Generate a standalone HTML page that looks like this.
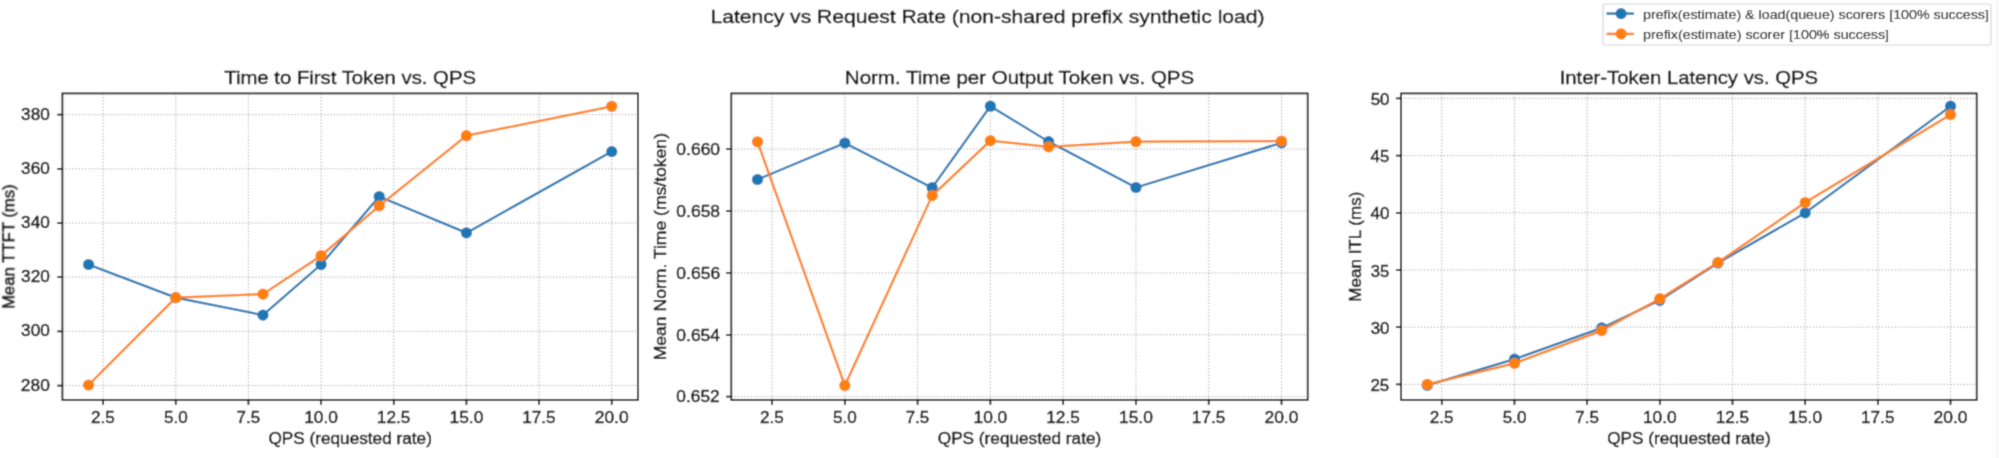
<!DOCTYPE html>
<html><head><meta charset="utf-8"><style>
html,body{margin:0;padding:0;background:#fff;}
body{width:1999px;height:458px;overflow:hidden;}
svg{display:block;}
text{font-family:"Liberation Sans",sans-serif;stroke:#000;stroke-width:0.4px;}
</style></head><body>
<svg width="1999" height="458" viewBox="0 0 1999 458">
<defs><filter id="bl" x="0" y="0" width="1999" height="458" filterUnits="userSpaceOnUse"><feConvolveMatrix order="5" kernelMatrix="0.000013 0.000619 0.002273 0.000619 0.000013 0.000619 0.030646 0.112530 0.030646 0.000619 0.002273 0.112530 0.413206 0.112530 0.002273 0.000619 0.030646 0.112530 0.030646 0.000619 0.000013 0.000619 0.002273 0.000619 0.000013" edgeMode="duplicate"/></filter></defs>
<g filter="url(#bl)">
<rect width="1999" height="458" fill="#fff"/>
<path d="M103.09 93.40V399.90 M175.76 93.40V399.90 M248.42 93.40V399.90 M321.08 93.40V399.90 M393.75 93.40V399.90 M466.41 93.40V399.90 M539.08 93.40V399.90 M611.74 93.40V399.90 M62.40 114.60H637.90 M62.40 168.80H637.90 M62.40 223.00H637.90 M62.40 277.10H637.90 M62.40 331.30H637.90 M62.40 385.50H637.90" stroke="#a0a0a0" stroke-width="1.0" stroke-dasharray="1.25 2.02" fill="none"/>
<polyline points="88.56,264.50 175.76,297.60 262.95,315.10 321.08,264.50 379.22,196.50 466.41,232.90 611.74,151.60" fill="none" stroke="#1f77b4" stroke-width="2.25" stroke-linejoin="round" stroke-linecap="square"/>
<circle cx="88.56" cy="264.50" r="5.6" fill="#1f77b4"/>
<circle cx="175.76" cy="297.60" r="5.6" fill="#1f77b4"/>
<circle cx="262.95" cy="315.10" r="5.6" fill="#1f77b4"/>
<circle cx="321.08" cy="264.50" r="5.6" fill="#1f77b4"/>
<circle cx="379.22" cy="196.50" r="5.6" fill="#1f77b4"/>
<circle cx="466.41" cy="232.90" r="5.6" fill="#1f77b4"/>
<circle cx="611.74" cy="151.60" r="5.6" fill="#1f77b4"/>
<polyline points="88.56,385.00 175.76,297.60 262.95,294.10 321.08,255.70 379.22,205.80 466.41,135.70 611.74,106.30" fill="none" stroke="#ff7f0e" stroke-width="2.25" stroke-linejoin="round" stroke-linecap="square"/>
<circle cx="88.56" cy="385.00" r="5.6" fill="#ff7f0e"/>
<circle cx="175.76" cy="297.60" r="5.6" fill="#ff7f0e"/>
<circle cx="262.95" cy="294.10" r="5.6" fill="#ff7f0e"/>
<circle cx="321.08" cy="255.70" r="5.6" fill="#ff7f0e"/>
<circle cx="379.22" cy="205.80" r="5.6" fill="#ff7f0e"/>
<circle cx="466.41" cy="135.70" r="5.6" fill="#ff7f0e"/>
<circle cx="611.74" cy="106.30" r="5.6" fill="#ff7f0e"/>
<rect x="62.40" y="93.40" width="575.50" height="306.50" fill="none" stroke="#000" stroke-width="1.75"/>
<path d="M103.09 399.90V405.10 M175.76 399.90V405.10 M248.42 399.90V405.10 M321.08 399.90V405.10 M393.75 399.90V405.10 M466.41 399.90V405.10 M539.08 399.90V405.10 M611.74 399.90V405.10 M57.20 114.60H62.40 M57.20 168.80H62.40 M57.20 223.00H62.40 M57.20 277.10H62.40 M57.20 331.30H62.40 M57.20 385.50H62.40" stroke="#000" stroke-width="1.75" fill="none"/>
<text x="102.91" y="422.60" font-size="15.81" text-anchor="middle" textLength="23.74" lengthAdjust="spacingAndGlyphs" fill="#000">2.5</text>
<text x="175.83" y="422.60" font-size="15.81" text-anchor="middle" textLength="23.78" lengthAdjust="spacingAndGlyphs" fill="#000">5.0</text>
<text x="248.30" y="422.60" font-size="15.81" text-anchor="middle" textLength="23.61" lengthAdjust="spacingAndGlyphs" fill="#000">7.5</text>
<text x="321.10" y="422.60" font-size="15.81" text-anchor="middle" textLength="33.78" lengthAdjust="spacingAndGlyphs" fill="#000">10.0</text>
<text x="393.63" y="422.60" font-size="15.81" text-anchor="middle" textLength="33.49" lengthAdjust="spacingAndGlyphs" fill="#000">12.5</text>
<text x="466.43" y="422.60" font-size="15.81" text-anchor="middle" textLength="33.78" lengthAdjust="spacingAndGlyphs" fill="#000">15.0</text>
<text x="538.96" y="422.60" font-size="15.81" text-anchor="middle" textLength="33.49" lengthAdjust="spacingAndGlyphs" fill="#000">17.5</text>
<text x="611.70" y="422.60" font-size="15.81" text-anchor="middle" textLength="33.90" lengthAdjust="spacingAndGlyphs" fill="#000">20.0</text>
<text x="49.84" y="119.60" font-size="15.81" text-anchor="end" textLength="28.70" lengthAdjust="spacingAndGlyphs" fill="#000">380</text>
<text x="49.84" y="173.80" font-size="15.81" text-anchor="end" textLength="28.70" lengthAdjust="spacingAndGlyphs" fill="#000">360</text>
<text x="49.84" y="228.00" font-size="15.81" text-anchor="end" textLength="28.70" lengthAdjust="spacingAndGlyphs" fill="#000">340</text>
<text x="49.84" y="282.10" font-size="15.81" text-anchor="end" textLength="28.70" lengthAdjust="spacingAndGlyphs" fill="#000">320</text>
<text x="49.84" y="336.30" font-size="15.81" text-anchor="end" textLength="28.70" lengthAdjust="spacingAndGlyphs" fill="#000">300</text>
<text x="49.85" y="390.50" font-size="15.81" text-anchor="end" textLength="28.97" lengthAdjust="spacingAndGlyphs" fill="#000">280</text>
<text x="350.15" y="83.60" font-size="18.67" text-anchor="middle" textLength="251.71" lengthAdjust="spacingAndGlyphs" fill="#000">Time to First Token vs. QPS</text>
<text x="350.15" y="444.00" font-size="15.81" text-anchor="middle" textLength="163.45" lengthAdjust="spacingAndGlyphs" fill="#000">QPS (requested rate)</text>
<text x="14.00" y="246.65" font-size="15.81" text-anchor="middle" textLength="124.67" lengthAdjust="spacingAndGlyphs" fill="#000" transform="rotate(-90 14.00 246.65)">Mean TTFT (ms)</text>
<path d="M772.06 93.40V399.90 M844.83 93.40V399.90 M917.61 93.40V399.90 M990.39 93.40V399.90 M1063.17 93.40V399.90 M1135.94 93.40V399.90 M1208.72 93.40V399.90 M1281.50 93.40V399.90 M731.30 149.10H1307.70 M731.30 211.00H1307.70 M731.30 272.90H1307.70 M731.30 334.80H1307.70 M731.30 396.70H1307.70" stroke="#a0a0a0" stroke-width="1.0" stroke-dasharray="1.25 2.02" fill="none"/>
<polyline points="757.50,179.50 844.83,143.00 932.17,187.70 990.39,106.20 1048.61,141.60 1135.94,187.50 1281.50,142.80" fill="none" stroke="#1f77b4" stroke-width="2.25" stroke-linejoin="round" stroke-linecap="square"/>
<circle cx="757.50" cy="179.50" r="5.6" fill="#1f77b4"/>
<circle cx="844.83" cy="143.00" r="5.6" fill="#1f77b4"/>
<circle cx="932.17" cy="187.70" r="5.6" fill="#1f77b4"/>
<circle cx="990.39" cy="106.20" r="5.6" fill="#1f77b4"/>
<circle cx="1048.61" cy="141.60" r="5.6" fill="#1f77b4"/>
<circle cx="1135.94" cy="187.50" r="5.6" fill="#1f77b4"/>
<circle cx="1281.50" cy="142.80" r="5.6" fill="#1f77b4"/>
<polyline points="757.50,141.80 844.83,385.50 932.17,195.60 990.39,140.60 1048.61,146.90 1135.94,141.70 1281.50,141.00" fill="none" stroke="#ff7f0e" stroke-width="2.25" stroke-linejoin="round" stroke-linecap="square"/>
<circle cx="757.50" cy="141.80" r="5.6" fill="#ff7f0e"/>
<circle cx="844.83" cy="385.50" r="5.6" fill="#ff7f0e"/>
<circle cx="932.17" cy="195.60" r="5.6" fill="#ff7f0e"/>
<circle cx="990.39" cy="140.60" r="5.6" fill="#ff7f0e"/>
<circle cx="1048.61" cy="146.90" r="5.6" fill="#ff7f0e"/>
<circle cx="1135.94" cy="141.70" r="5.6" fill="#ff7f0e"/>
<circle cx="1281.50" cy="141.00" r="5.6" fill="#ff7f0e"/>
<rect x="731.30" y="93.40" width="576.40" height="306.50" fill="none" stroke="#000" stroke-width="1.75"/>
<path d="M772.06 399.90V405.10 M844.83 399.90V405.10 M917.61 399.90V405.10 M990.39 399.90V405.10 M1063.17 399.90V405.10 M1135.94 399.90V405.10 M1208.72 399.90V405.10 M1281.50 399.90V405.10 M726.10 149.10H731.30 M726.10 211.00H731.30 M726.10 272.90H731.30 M726.10 334.80H731.30 M726.10 396.70H731.30" stroke="#000" stroke-width="1.75" fill="none"/>
<text x="771.87" y="422.60" font-size="15.81" text-anchor="middle" textLength="23.74" lengthAdjust="spacingAndGlyphs" fill="#000">2.5</text>
<text x="844.91" y="422.60" font-size="15.81" text-anchor="middle" textLength="23.78" lengthAdjust="spacingAndGlyphs" fill="#000">5.0</text>
<text x="917.49" y="422.60" font-size="15.81" text-anchor="middle" textLength="23.61" lengthAdjust="spacingAndGlyphs" fill="#000">7.5</text>
<text x="990.40" y="422.60" font-size="15.81" text-anchor="middle" textLength="33.78" lengthAdjust="spacingAndGlyphs" fill="#000">10.0</text>
<text x="1063.05" y="422.60" font-size="15.81" text-anchor="middle" textLength="33.49" lengthAdjust="spacingAndGlyphs" fill="#000">12.5</text>
<text x="1135.96" y="422.60" font-size="15.81" text-anchor="middle" textLength="33.78" lengthAdjust="spacingAndGlyphs" fill="#000">15.0</text>
<text x="1208.60" y="422.60" font-size="15.81" text-anchor="middle" textLength="33.49" lengthAdjust="spacingAndGlyphs" fill="#000">17.5</text>
<text x="1281.46" y="422.60" font-size="15.81" text-anchor="middle" textLength="33.90" lengthAdjust="spacingAndGlyphs" fill="#000">20.0</text>
<text x="720.05" y="154.80" font-size="15.81" text-anchor="end" textLength="43.69" lengthAdjust="spacingAndGlyphs" fill="#000">0.660</text>
<text x="720.10" y="216.70" font-size="15.81" text-anchor="end" textLength="43.73" lengthAdjust="spacingAndGlyphs" fill="#000">0.658</text>
<text x="720.19" y="278.60" font-size="15.81" text-anchor="end" textLength="43.83" lengthAdjust="spacingAndGlyphs" fill="#000">0.656</text>
<text x="720.04" y="340.50" font-size="15.81" text-anchor="end" textLength="43.67" lengthAdjust="spacingAndGlyphs" fill="#000">0.654</text>
<text x="719.72" y="402.40" font-size="15.81" text-anchor="end" textLength="43.35" lengthAdjust="spacingAndGlyphs" fill="#000">0.652</text>
<text x="1019.50" y="83.60" font-size="18.67" text-anchor="middle" textLength="349.34" lengthAdjust="spacingAndGlyphs" fill="#000">Norm. Time per Output Token vs. QPS</text>
<text x="1019.50" y="444.00" font-size="15.81" text-anchor="middle" textLength="163.45" lengthAdjust="spacingAndGlyphs" fill="#000">QPS (requested rate)</text>
<text x="666.00" y="246.65" font-size="15.81" text-anchor="middle" textLength="227.29" lengthAdjust="spacingAndGlyphs" fill="#000" transform="rotate(-90 666.00 246.65)">Mean Norm. Time (ms/token)</text>
<path d="M1441.80 93.40V399.90 M1514.48 93.40V399.90 M1587.15 93.40V399.90 M1659.83 93.40V399.90 M1732.51 93.40V399.90 M1805.18 93.40V399.90 M1877.86 93.40V399.90 M1950.54 93.40V399.90 M1401.10 98.40H1976.70 M1401.10 155.60H1976.70 M1401.10 212.80H1976.70 M1401.10 270.00H1976.70 M1401.10 327.20H1976.70 M1401.10 384.40H1976.70" stroke="#a0a0a0" stroke-width="1.0" stroke-dasharray="1.25 2.02" fill="none"/>
<polyline points="1427.26,385.40 1514.48,359.20 1601.69,327.90 1659.83,300.30 1717.97,263.00 1805.18,212.90 1950.54,106.20" fill="none" stroke="#1f77b4" stroke-width="2.25" stroke-linejoin="round" stroke-linecap="square"/>
<circle cx="1427.26" cy="385.40" r="5.6" fill="#1f77b4"/>
<circle cx="1514.48" cy="359.20" r="5.6" fill="#1f77b4"/>
<circle cx="1601.69" cy="327.90" r="5.6" fill="#1f77b4"/>
<circle cx="1659.83" cy="300.30" r="5.6" fill="#1f77b4"/>
<circle cx="1717.97" cy="263.00" r="5.6" fill="#1f77b4"/>
<circle cx="1805.18" cy="212.90" r="5.6" fill="#1f77b4"/>
<circle cx="1950.54" cy="106.20" r="5.6" fill="#1f77b4"/>
<polyline points="1427.26,384.30 1514.48,363.40 1601.69,330.60 1659.83,298.70 1717.97,262.40 1805.18,202.50 1950.54,114.50" fill="none" stroke="#ff7f0e" stroke-width="2.25" stroke-linejoin="round" stroke-linecap="square"/>
<circle cx="1427.26" cy="384.30" r="5.6" fill="#ff7f0e"/>
<circle cx="1514.48" cy="363.40" r="5.6" fill="#ff7f0e"/>
<circle cx="1601.69" cy="330.60" r="5.6" fill="#ff7f0e"/>
<circle cx="1659.83" cy="298.70" r="5.6" fill="#ff7f0e"/>
<circle cx="1717.97" cy="262.40" r="5.6" fill="#ff7f0e"/>
<circle cx="1805.18" cy="202.50" r="5.6" fill="#ff7f0e"/>
<circle cx="1950.54" cy="114.50" r="5.6" fill="#ff7f0e"/>
<rect x="1401.10" y="93.40" width="575.60" height="306.50" fill="none" stroke="#000" stroke-width="1.75"/>
<path d="M1441.80 399.90V405.10 M1514.48 399.90V405.10 M1587.15 399.90V405.10 M1659.83 399.90V405.10 M1732.51 399.90V405.10 M1805.18 399.90V405.10 M1877.86 399.90V405.10 M1950.54 399.90V405.10 M1395.90 98.40H1401.10 M1395.90 155.60H1401.10 M1395.90 212.80H1401.10 M1395.90 270.00H1401.10 M1395.90 327.20H1401.10 M1395.90 384.40H1401.10" stroke="#000" stroke-width="1.75" fill="none"/>
<text x="1441.62" y="422.60" font-size="15.81" text-anchor="middle" textLength="23.74" lengthAdjust="spacingAndGlyphs" fill="#000">2.5</text>
<text x="1514.55" y="422.60" font-size="15.81" text-anchor="middle" textLength="23.78" lengthAdjust="spacingAndGlyphs" fill="#000">5.0</text>
<text x="1587.03" y="422.60" font-size="15.81" text-anchor="middle" textLength="23.61" lengthAdjust="spacingAndGlyphs" fill="#000">7.5</text>
<text x="1659.84" y="422.60" font-size="15.81" text-anchor="middle" textLength="33.78" lengthAdjust="spacingAndGlyphs" fill="#000">10.0</text>
<text x="1732.39" y="422.60" font-size="15.81" text-anchor="middle" textLength="33.49" lengthAdjust="spacingAndGlyphs" fill="#000">12.5</text>
<text x="1805.20" y="422.60" font-size="15.81" text-anchor="middle" textLength="33.78" lengthAdjust="spacingAndGlyphs" fill="#000">15.0</text>
<text x="1877.74" y="422.60" font-size="15.81" text-anchor="middle" textLength="33.49" lengthAdjust="spacingAndGlyphs" fill="#000">17.5</text>
<text x="1950.49" y="422.60" font-size="15.81" text-anchor="middle" textLength="33.90" lengthAdjust="spacingAndGlyphs" fill="#000">20.0</text>
<text x="1389.53" y="104.90" font-size="15.81" text-anchor="end" textLength="18.84" lengthAdjust="spacingAndGlyphs" fill="#000">50</text>
<text x="1389.25" y="162.10" font-size="15.81" text-anchor="end" textLength="18.70" lengthAdjust="spacingAndGlyphs" fill="#000">45</text>
<text x="1389.54" y="219.30" font-size="15.81" text-anchor="end" textLength="19.00" lengthAdjust="spacingAndGlyphs" fill="#000">40</text>
<text x="1389.24" y="276.50" font-size="15.81" text-anchor="end" textLength="18.52" lengthAdjust="spacingAndGlyphs" fill="#000">35</text>
<text x="1389.53" y="333.70" font-size="15.81" text-anchor="end" textLength="18.82" lengthAdjust="spacingAndGlyphs" fill="#000">30</text>
<text x="1389.25" y="390.90" font-size="15.81" text-anchor="end" textLength="18.79" lengthAdjust="spacingAndGlyphs" fill="#000">25</text>
<text x="1688.90" y="83.60" font-size="18.67" text-anchor="middle" textLength="258.41" lengthAdjust="spacingAndGlyphs" fill="#000">Inter-Token Latency vs. QPS</text>
<text x="1688.90" y="444.00" font-size="15.81" text-anchor="middle" textLength="163.45" lengthAdjust="spacingAndGlyphs" fill="#000">QPS (requested rate)</text>
<text x="1361.20" y="246.65" font-size="15.81" text-anchor="middle" textLength="110.03" lengthAdjust="spacingAndGlyphs" fill="#000" transform="rotate(-90 1361.20 246.65)">Mean ITL (ms)</text>
<text x="987.50" y="23.00" font-size="18.97" text-anchor="middle" textLength="554.08" lengthAdjust="spacingAndGlyphs" fill="#000">Latency vs Request Rate (non-shared prefix synthetic load)</text>
<rect x="1603.0" y="4.0" width="388.0" height="41.0" rx="2.5" fill="#fff" fill-opacity="0.8" stroke="#d6d6d6" stroke-width="1.2"/>
<path d="M1606.5 13.6H1634" stroke="#1f77b4" stroke-width="2.4"/>
<circle cx="1621.1" cy="13.6" r="5.6" fill="#1f77b4"/>
<text x="1643.00" y="18.60" font-size="12.75" text-anchor="start" textLength="345.94" lengthAdjust="spacingAndGlyphs" fill="#000" style="stroke-width:0.12px">prefix(estimate) &amp; load(queue) scorers [100% success]</text>
<path d="M1606.5 33.9H1634" stroke="#ff7f0e" stroke-width="2.4"/>
<circle cx="1621.1" cy="33.9" r="5.6" fill="#ff7f0e"/>
<text x="1643.00" y="38.90" font-size="12.75" text-anchor="start" textLength="246.10" lengthAdjust="spacingAndGlyphs" fill="#000" style="stroke-width:0.12px">prefix(estimate) scorer [100% success]</text>
<path d="M1997.2 0V458" stroke="#f2f2f2" stroke-width="1.5"/>
</g>
</svg></body></html>
